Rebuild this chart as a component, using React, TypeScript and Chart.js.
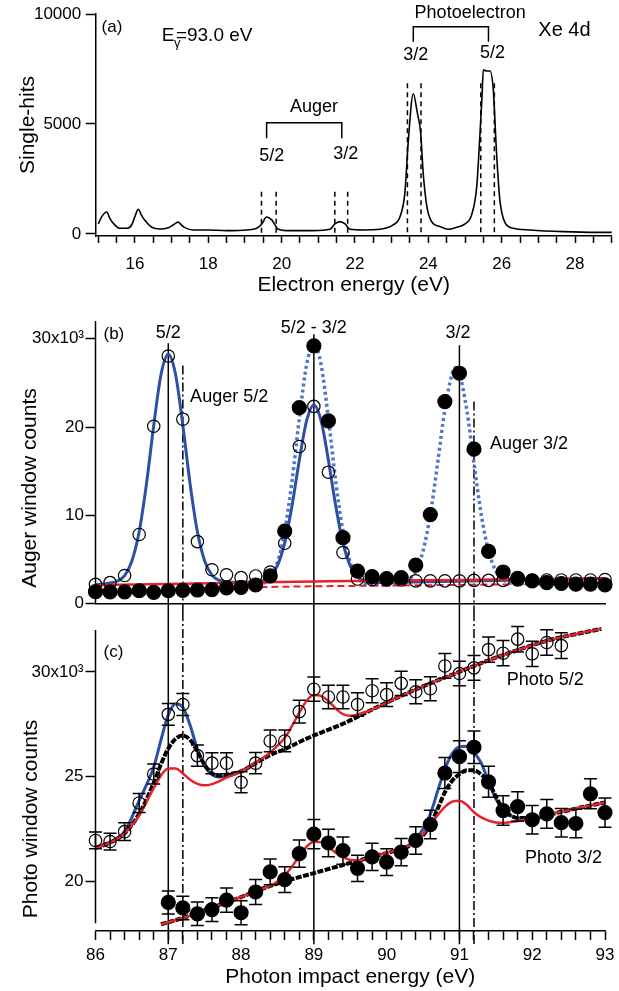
import { useEffect, useRef } from 'react';
import { Chart, registerables } from 'chart.js';

Chart.register(...registerables);

const FONT = '"Liberation Sans", Arial, Helvetica, sans-serif';
const BLACK = '#000000';
const BLUE = '#2e4fa6';
const BLUE_DOTTED = '#4f77c6';
const RED = '#e62129';

// ---------------- Panel (a): single-hit electron spectrum ----------------
const spectrumEnergy = [15.0, 15.1, 15.23, 15.32, 15.41, 15.59, 15.77, 15.91, 16.0, 16.09, 16.18, 16.27, 16.46, 16.68, 16.91, 17.05, 17.18, 17.27, 17.36, 17.59, 17.96, 18.5, 19.05, 19.32, 19.46, 19.59, 19.73, 19.91, 20.14, 20.86, 21.32, 21.45, 21.59, 21.73, 21.86, 22.23, 22.68, 23.04, 23.23, 23.36, 23.45, 23.59, 23.7, 23.79, 23.86, 23.96, 24.09, 24.32, 24.54, 24.77, 25.0, 25.18, 25.32, 25.41, 25.46, 25.5, 25.59, 25.68, 25.77, 25.86, 25.95, 26.09, 26.32, 26.77, 27.68, 28.59, 29.0];
const spectrumCounts = [457, 800, 1000, 700, 487, 259, 259, 411, 800, 1126, 850, 620, 304, 228, 289, 420, 540, 400, 289, 183, 183, 152, 183, 259, 457, 770, 640, 213, 152, 152, 213, 457, 563, 457, 213, 183, 213, 411, 791, 1857, 4140, 6377, 5510, 4600, 2770, 1248, 563, 335, 213, 304, 457, 868, 2161, 4600, 6119, 7458, 7412, 7412, 6575, 3683, 1553, 518, 259, 183, 107, 76, 76];
const spectrumTickLabels = [16, 18, 20, 22, 24, 26, 28];
const spectrumYTicks = [0, 5000, 10000];
const augerWindowEdges = [19.45, 19.85, 21.45, 21.8];
const photoWindowEdges = [23.43, 23.8, 25.43, 25.8];
const augerWindowTop = 1923;
const photoWindowTop = 6850;
const panelABrackets = [
  { x1: 23.59, x2: 25.64, top: 9423, bottom: 8741 },
  { x1: 19.59, x2: 21.64, top: 5059, bottom: 4350 },
];
const panelALabels = [
  { text: '(a)', x: 15.09, y: 9409, size: 17, align: 'left' },
  { text: 'Photoelectron', x: 25.14, y: 10032, size: 18, align: 'center' },
  { text: '3/2', x: 23.66, y: 8136, size: 18, align: 'center' },
  { text: '5/2', x: 25.75, y: 8214, size: 18, align: 'center' },
  { text: 'Xe 4d', x: 27.0, y: 9273, size: 20, align: 'left' },
  { text: 'Auger', x: 20.88, y: 5786, size: 18, align: 'center' },
  { text: '5/2', x: 19.73, y: 3545, size: 18, align: 'center' },
  { text: '3/2', x: 21.75, y: 3636, size: 18, align: 'center' },
];
const photonEnergyLabel = { x: 16.73, y: 8795 };

// ---------------- Panels (b) and (c): photon energy scans ----------------
const photonEnergy = [86.0, 86.2, 86.4, 86.6, 86.8, 87.0, 87.2, 87.4, 87.6, 87.8, 88.0, 88.2, 88.4, 88.6, 88.8, 89.0, 89.2, 89.4, 89.6, 89.8, 90.0, 90.2, 90.4, 90.6, 90.8, 91.0, 91.2, 91.4, 91.6, 91.8, 92.0, 92.2, 92.4, 92.6, 92.8, 93.0];
const photonTickLabels = [86, 87, 88, 89, 90, 91, 92, 93];

// (b) Auger window counts
const auger52Counts = [2200, 2400, 3200, 7850, 20100, 28050, 20900, 7040, 3850, 3280, 2960, 3150, 3600, 6850, 17800, 22350, 14900, 5800, 2800, 2750, 2700, 2700, 2600, 2600, 2600, 2600, 2650, 2650, 2650, 2700, 2650, 2700, 2700, 2700, 2700, 2750];
const auger32Counts = [1370, 1350, 1350, 1480, 1300, 1480, 1530, 1560, 1610, 1800, 1850, 2130, 3150, 8220, 22200, 29200, 20700, 7480, 3700, 3070, 2850, 2960, 4370, 10100, 22900, 26100, 17500, 5930, 3600, 2890, 2600, 2400, 2300, 2220, 2220, 2150];
const auger52FitE = [86.0, 86.2, 86.3, 86.4, 86.5, 86.6, 86.7, 86.8, 86.9, 87.0, 87.1, 87.2, 87.3, 87.4, 87.5, 87.6, 87.7, 87.8, 88.0, 88.2, 88.3, 88.4, 88.5, 88.6, 88.7, 88.8, 88.9, 89.0, 89.1, 89.2, 89.3, 89.4, 89.5, 89.6, 89.7, 89.8, 90.2, 93.0];
const auger52Fit = [2150, 2350, 2580, 3200, 4850, 8150, 13550, 20200, 25950, 28250, 25950, 20200, 13550, 8150, 4850, 3250, 2650, 2480, 2450, 2500, 2620, 3100, 4350, 6900, 11100, 16250, 20700, 22500, 20700, 16250, 11100, 6900, 4300, 3050, 2560, 2400, 2450, 2850];
const auger32FitE = [86.0, 87.0, 87.8, 88.0, 88.2, 88.3, 88.4, 88.5, 88.6, 88.7, 88.8, 88.9, 89.0, 89.1, 89.2, 89.3, 89.4, 89.5, 89.6, 89.7, 89.8, 90.0, 90.2, 90.3, 90.4, 90.5, 90.6, 90.7, 90.8, 90.9, 90.95, 91.0, 91.1, 91.2, 91.3, 91.4, 91.5, 91.6, 91.7, 91.8, 93.0];
const auger32Fit = [1450, 1550, 1850, 1950, 2100, 2300, 2960, 4700, 8200, 13900, 20950, 27050, 29500, 27050, 20950, 13900, 8200, 4700, 2960, 2300, 2150, 2150, 2360, 2730, 3720, 5980, 10080, 15900, 22000, 26040, 26750, 26040, 22000, 15900, 10080, 5980, 3720, 2730, 2360, 2300, 2200];
const auger52BgE = [86, 87, 88, 89, 89.5, 90, 91, 92, 93];
const auger52Bg = [2100, 2250, 2390, 2520, 2590, 2630, 2700, 2780, 2850];
const auger32BgE = [86, 87, 88, 88.4, 89, 90, 91, 92, 93];
const auger32Bg = [1380, 1520, 1780, 1900, 1980, 2060, 2140, 2220, 2300];
const augerYTicks = [0, 10000, 20000, 30000];

// (c) Photo window counts
const photo52Energy = photonEnergy.slice(0, 33);
const photo52Counts = [21950, 21900, 22370, 23740, 25120, 27970, 28440, 26000, 25640, 25640, 24730, 25640, 26700, 26700, 28100, 29170, 28800, 28800, 28440, 29100, 28910, 29450, 29050, 29190, 30280, 29920, 30190, 31060, 30890, 31560, 30860, 31400, 31250];
const photo52Err = [400, 400, 420, 450, 480, 520, 520, 510, 500, 500, 500, 510, 520, 520, 540, 580, 560, 560, 560, 570, 570, 580, 570, 570, 590, 580, 590, 600, 600, 610, 600, 610, 610];
const photo32Energy = photonEnergy.slice(5);
const photo32Counts = [18990, 18730, 18450, 18650, 19100, 18500, 19490, 20450, 20080, 21320, 22250, 21830, 21470, 20620, 21170, 20920, 21390, 21950, 22710, 25170, 25950, 26400, 24750, 23380, 23570, 22940, 23220, 22800, 22760, 24180, 23280];
const photo32Err = [550, 560, 560, 570, 580, 570, 600, 620, 610, 650, 700, 660, 650, 630, 650, 640, 650, 660, 680, 740, 760, 780, 740, 700, 700, 680, 690, 680, 680, 720, 700];

const photo52BlueE = [86.0, 86.2, 86.4, 86.6, 86.7, 86.8, 86.9, 87.0, 87.1, 87.2, 87.3, 87.4, 87.5, 87.6, 87.7, 87.8, 88.0, 88.2];
const photo52Blue = [21600, 21870, 22380, 23850, 24600, 25450, 26750, 27950, 28480, 28300, 27450, 26300, 25500, 25100, 24980, 25000, 25250, 25640];
const photo52BlackE = [86.0, 86.2, 86.4, 86.6, 86.8, 86.9, 87.0, 87.1, 87.2, 87.3, 87.4, 87.5, 87.6, 87.7, 87.8, 88.0, 88.2, 88.4, 88.6, 88.8, 89.0, 89.4, 89.8, 90.2, 90.6, 91.0, 91.4, 91.8, 92.2, 92.6, 92.95];
const photo52Black = [21600, 21850, 22290, 23220, 24700, 25600, 26340, 26800, 26960, 26750, 26200, 25550, 25150, 25050, 25090, 25250, 25640, 26030, 26310, 26650, 26960, 27520, 28200, 28850, 29450, 30000, 30550, 31040, 31480, 31800, 32050];
const photo52RedE = [86.0, 86.2, 86.4, 86.6, 86.8, 86.9, 87.0, 87.1, 87.2, 87.3, 87.4, 87.5, 87.6, 87.8, 88.0, 88.2, 88.4, 88.5, 88.6, 88.7, 88.8, 88.9, 89.0, 89.1, 89.2, 89.3, 89.4, 89.5, 89.6, 89.8, 90.2, 90.6, 91.0, 91.4, 91.8, 92.2, 92.6, 92.95];
const photo52Red = [21600, 21850, 22290, 23150, 24450, 25050, 25380, 25380, 25150, 24850, 24650, 24580, 24640, 24950, 25250, 25660, 26150, 26480, 26850, 27420, 28050, 28620, 28900, 28850, 28600, 28250, 27980, 27900, 27960, 28200, 28850, 29450, 30000, 30550, 31040, 31480, 31800, 32050];

const photo32BlueE = [90.3, 90.4, 90.5, 90.6, 90.7, 90.8, 90.9, 91.0, 91.1, 91.2, 91.3, 91.4, 91.5, 91.6, 91.7, 91.8, 91.9, 92.0];
const photo32Blue = [21700, 22050, 22500, 23200, 24300, 25350, 26100, 26420, 26450, 26150, 25640, 24750, 23950, 23400, 23150, 23020, 23000, 23030];
const photo32BlackE = [86.9, 87.2, 87.6, 88.0, 88.4, 88.8, 89.0, 89.4, 89.8, 90.2, 90.4, 90.5, 90.6, 90.7, 90.8, 90.9, 91.0, 91.1, 91.2, 91.3, 91.4, 91.5, 91.6, 91.7, 91.8, 92.0, 92.4, 92.8, 93.0];
const photo32Black = [17950, 18250, 18750, 19250, 19780, 20200, 20390, 20780, 21170, 21550, 21850, 22200, 22700, 23450, 24250, 24800, 25120, 25300, 25300, 25100, 24750, 24050, 23450, 23150, 23020, 23020, 23320, 23620, 23770];
const photo32RedE = [86.9, 87.2, 87.6, 88.0, 88.4, 88.5, 88.6, 88.7, 88.8, 88.9, 89.0, 89.1, 89.2, 89.3, 89.4, 89.5, 89.6, 89.8, 90.0, 90.2, 90.4, 90.5, 90.6, 90.7, 90.8, 90.9, 91.0, 91.1, 91.2, 91.3, 91.4, 91.5, 91.6, 91.8, 92.0, 92.2, 92.4, 92.6, 92.8, 93.0];
const photo32Red = [17950, 18250, 18750, 19250, 19790, 19990, 20290, 20710, 21200, 21650, 21890, 21870, 21650, 21370, 21150, 21020, 21000, 21170, 21360, 21550, 21900, 22250, 22700, 23150, 23550, 23800, 23850, 23650, 23300, 23050, 22900, 22810, 22790, 22880, 23020, 23190, 23320, 23480, 23620, 23770];
const photoYTicks = [20000, 25000, 30000];

// reference lines (photon energies) and their upper ends in panel (b)
const solidRefLines = [87.0, 89.0, 91.0];
const solidRefTopsB = [29500, 30500, 29270];
const dashDotRefLines = [87.2, 91.2];
const dashDotTopsB = [26970, 22900];
const refLinesBottomC = 17000;

const augerLabels = [
  { text: '(b)', x: 86.11, y: 30490, size: 17, align: 'left' },
  { text: '5/2', x: 87.0, y: 30600, size: 18, align: 'center' },
  { text: '5/2 - 3/2', x: 89.0, y: 31230, size: 18, align: 'center' },
  { text: '3/2', x: 90.98, y: 30600, size: 18, align: 'center' },
  { text: 'Auger 5/2', x: 87.3, y: 23390, size: 18, align: 'left' },
  { text: 'Auger 3/2', x: 91.42, y: 18100, size: 18, align: 'left' },
];
const photoLabels = [
  { text: '(c)', x: 86.11, y: 30930, size: 17, align: 'left' },
  { text: 'Photo 5/2', x: 91.65, y: 29614, size: 18, align: 'left' },
  { text: 'Photo 3/2', x: 91.9, y: 21116, size: 18, align: 'left' },
];

function pts(xs: number[], ys: number[]) {
  return xs.map((x, i) => ({ x, y: ys[i] }));
}

function drawText(ctx: CanvasRenderingContext2D, text: string, x: number, y: number, size: number, align: CanvasTextAlign) {
  ctx.save();
  ctx.font = `${size}px ${FONT}`;
  ctx.fillStyle = BLACK;
  ctx.textAlign = align;
  ctx.textBaseline = 'middle';
  ctx.fillText(text, x, y);
  ctx.restore();
}

function drawRotated(ctx: CanvasRenderingContext2D, text: string, x: number, y: number, size: number) {
  ctx.save();
  ctx.translate(x, y);
  ctx.rotate(-Math.PI / 2);
  ctx.font = `${size}px ${FONT}`;
  ctx.fillStyle = BLACK;
  ctx.textAlign = 'center';
  ctx.textBaseline = 'middle';
  ctx.fillText(text, 0, 0);
  ctx.restore();
}

function vline(ctx: CanvasRenderingContext2D, x: number, y1: number, y2: number) {
  ctx.beginPath();
  ctx.moveTo(x, y1);
  ctx.lineTo(x, y2);
  ctx.stroke();
}

function drawErrorBars(ctx: CanvasRenderingContext2D, xs: number[], ys: number[], errs: number[], xScale: any, yScale: any) {
  ctx.save();
  ctx.strokeStyle = BLACK;
  ctx.lineWidth = 1.5;
  ctx.setLineDash([]);
  xs.forEach((xv, i) => {
    const px = xScale.getPixelForValue(xv);
    const top = yScale.getPixelForValue(ys[i] + errs[i]);
    const bot = yScale.getPixelForValue(ys[i] - errs[i]);
    ctx.beginPath();
    ctx.moveTo(px, top);
    ctx.lineTo(px, bot);
    ctx.moveTo(px - 6.5, top);
    ctx.lineTo(px + 6.5, top);
    ctx.moveTo(px - 6.5, bot);
    ctx.lineTo(px + 6.5, bot);
    ctx.stroke();
  });
  ctx.restore();
}

const baseOptions = (padding: any) => ({
  animation: false,
  responsive: false,
  maintainAspectRatio: false,
  devicePixelRatio: 1,
  events: [],
  layout: { padding },
  plugins: { legend: { display: false }, tooltip: { enabled: false } },
});

const tickGrid = (len: number) => ({
  display: true,
  drawOnChartArea: false,
  drawTicks: true,
  tickLength: len,
  tickColor: BLACK,
  tickWidth: 1.5,
  color: BLACK,
});

const curve = (data: any[], color: string, width: number, dash: number[], order: number) => ({
  data,
  showLine: true,
  borderColor: color,
  borderWidth: width,
  borderDash: dash,
  pointRadius: 0,
  cubicInterpolationMode: 'monotone',
  clip: false,
  order,
});

const markers = (data: any[], filled: boolean) => ({
  data,
  showLine: false,
  pointStyle: 'circle',
  pointRadius: filled ? 7 : 6.2,
  pointBorderWidth: 1.2,
  pointBorderColor: BLACK,
  pointBackgroundColor: filled ? BLACK : 'rgba(0,0,0,0)',
  clip: false,
  order: 0,
});

function makePanelA(canvas: HTMLCanvasElement) {
  const plugin = {
    id: 'panelAExtras',
    afterDatasetsDraw(chart: any) {
      const ctx: CanvasRenderingContext2D = chart.ctx;
      const X = (v: number) => chart.scales.x.getPixelForValue(v);
      const Y = (v: number) => chart.scales.y.getPixelForValue(v);
      ctx.save();
      ctx.strokeStyle = BLACK;
      ctx.lineWidth = 1.5;
      ctx.setLineDash([5, 4]);
      augerWindowEdges.forEach((e) => vline(ctx, X(e), Y(augerWindowTop), Y(0)));
      photoWindowEdges.forEach((e) => vline(ctx, X(e), Y(photoWindowTop), Y(0)));
      ctx.setLineDash([]);
      panelABrackets.forEach((b) => {
        ctx.beginPath();
        ctx.moveTo(X(b.x1), Y(b.bottom));
        ctx.lineTo(X(b.x1), Y(b.top));
        ctx.lineTo(X(b.x2), Y(b.top));
        ctx.lineTo(X(b.x2), Y(b.bottom));
        ctx.stroke();
      });
      ctx.restore();
      panelALabels.forEach((l) => drawText(ctx, l.text, X(l.x), Y(l.y), l.size, l.align as CanvasTextAlign));
      // E_gamma = 93.0 eV
      const ex = X(photonEnergyLabel.x);
      const ey = Y(photonEnergyLabel.y);
      ctx.save();
      ctx.fillStyle = BLACK;
      ctx.textAlign = 'left';
      ctx.textBaseline = 'alphabetic';
      ctx.font = `19px ${FONT}`;
      ctx.fillText('E', ex, ey);
      const w = ctx.measureText('E').width;
      ctx.font = `13px ${FONT}`;
      ctx.fillText('γ', ex + w - 0.5, ey + 6.5);
      ctx.font = `19px ${FONT}`;
      ctx.fillText('=93.0 eV', ex + w + 1.5, ey);
      ctx.restore();
    },
  };
  return new Chart(canvas, {
    type: 'scatter',
    data: {
      datasets: [curve(pts(spectrumEnergy, spectrumCounts), BLACK, 1.6, [], 1)],
    },
    options: {
      ...baseOptions({ top: 14, right: 7.3, left: 0, bottom: 0 }),
      scales: {
        x: {
          type: 'linear',
          position: 'bottom',
          min: 14.93,
          max: 29,
          afterFit: (s: any) => { s.height = 64; s.paddingLeft = 0; s.paddingRight = 0; },
          border: { display: true, color: BLACK, width: 1.5 },
          grid: tickGrid(7),
          ticks: {
            stepSize: 0.5,
            includeBounds: false,
            autoSkip: false,
            maxRotation: 0,
            minRotation: 0,
            padding: 11.5,
            color: BLACK,
            font: { size: 17, family: FONT },
            callback: (v: any) => {
              const t = spectrumTickLabels.find((q) => Math.abs(q - v) < 1e-6);
              return t === undefined ? '' : String(t);
            },
          },
          title: { display: true, text: 'Electron energy (eV)', color: BLACK, font: { size: 21, family: FONT }, padding: { top: 0, bottom: 2.4 } },
        },
        y: {
          type: 'linear',
          position: 'left',
          min: -91,
          max: 10000,
          afterFit: (s: any) => { s.width = 95.7; s.paddingTop = 0; s.paddingBottom = 0; },
          afterBuildTicks: (s: any) => { s.ticks = spectrumYTicks.map((v) => ({ value: v })); },
          border: { display: true, color: BLACK, width: 1.5 },
          grid: tickGrid(10),
          ticks: { autoSkip: false, padding: 4.5, color: BLACK, font: { size: 17, family: FONT }, callback: (v: any) => String(v) },
          title: { display: true, text: 'Single-hits', color: BLACK, font: { size: 21, family: FONT }, padding: { top: 16, bottom: 0 } },
        },
      },
    } as any,
    plugins: [plugin],
  });
}

function makePanelB(canvas: HTMLCanvasElement) {
  const plugin = {
    id: 'panelBExtras',
    beforeDatasetsDraw(chart: any) {
      const ctx: CanvasRenderingContext2D = chart.ctx;
      const X = (v: number) => chart.scales.x.getPixelForValue(v);
      const Y = (v: number) => chart.scales.y.getPixelForValue(v);
      const bottom = chart.height;
      ctx.save();
      ctx.strokeStyle = BLACK;
      ctx.lineWidth = 1.5;
      solidRefLines.forEach((e, i) => vline(ctx, X(e), Y(solidRefTopsB[i]), bottom));
      ctx.setLineDash([9, 3, 2, 3]);
      dashDotRefLines.forEach((e, i) => vline(ctx, X(e), Y(dashDotTopsB[i]), bottom));
      ctx.setLineDash([]);
      vline(ctx, chart.chartArea.left, Y(32000), Y(0));
      ctx.restore();
    },
    afterDatasetsDraw(chart: any) {
      const ctx: CanvasRenderingContext2D = chart.ctx;
      const X = (v: number) => chart.scales.x.getPixelForValue(v);
      const Y = (v: number) => chart.scales.y.getPixelForValue(v);
      augerLabels.forEach((l) => drawText(ctx, l.text, X(l.x), Y(l.y), l.size, l.align as CanvasTextAlign));
      drawRotated(ctx, 'Auger window counts', 30, 188, 21);
    },
  };
  return new Chart(canvas, {
    type: 'scatter',
    data: {
      datasets: [
        markers(pts(photonEnergy, auger52Counts), false),
        markers(pts(photonEnergy, auger32Counts), true),
        curve(pts(auger52BgE, auger52Bg), RED, 2.5, [], 1),
        curve(pts(auger32BgE, auger32Bg), RED, 2, [7, 4], 1),
        curve(pts(auger52FitE, auger52Fit), BLUE, 3, [], 2),
        curve(pts(auger32FitE, auger32Fit), BLUE_DOTTED, 3.5, [3, 3], 2),
      ],
    },
    options: {
      ...baseOptions({ top: 10, right: 14, left: 0, bottom: 0 }),
      scales: {
        x: {
          type: 'linear',
          position: 'bottom',
          min: 86,
          max: 93,
          afterFit: (s: any) => { s.height = 2; s.paddingLeft = 0; s.paddingRight = 0; },
          border: { display: true, color: BLACK, width: 1.5 },
          grid: { display: false },
          ticks: { display: false },
        },
        y: {
          type: 'linear',
          position: 'left',
          min: 0,
          max: 33259,
          afterFit: (s: any) => { s.width = 95.5; s.paddingTop = 0; s.paddingBottom = 0; },
          afterBuildTicks: (s: any) => { s.ticks = augerYTicks.map((v) => ({ value: v })); },
          border: { display: false },
          grid: tickGrid(10),
          ticks: {
            autoSkip: false,
            padding: 1.5,
            color: BLACK,
            font: { size: 17, family: FONT },
            callback: (v: any) => (v === 30000 ? '30x10³' : String(v / 1000)),
          },
        },
      },
    } as any,
    plugins: [plugin],
  });
}

function makePanelC(canvas: HTMLCanvasElement) {
  const plugin = {
    id: 'panelCExtras',
    beforeDatasetsDraw(chart: any) {
      const ctx: CanvasRenderingContext2D = chart.ctx;
      const X = (v: number) => chart.scales.x.getPixelForValue(v);
      const Y = (v: number) => chart.scales.y.getPixelForValue(v);
      ctx.save();
      ctx.strokeStyle = BLACK;
      ctx.lineWidth = 1.5;
      solidRefLines.forEach((e) => vline(ctx, X(e), 0, Y(refLinesBottomC)));
      ctx.setLineDash([9, 3, 2, 3]);
      dashDotRefLines.forEach((e) => vline(ctx, X(e), 0, Y(refLinesBottomC)));
      ctx.setLineDash([]);
      vline(ctx, chart.chartArea.left, Y(18000), Y(32000));
      ctx.restore();
    },
    afterDatasetsDraw(chart: any) {
      const ctx: CanvasRenderingContext2D = chart.ctx;
      const xs = chart.scales.x;
      const ys = chart.scales.y;
      drawErrorBars(ctx, photo52Energy, photo52Counts, photo52Err, xs, ys);
      drawErrorBars(ctx, photo32Energy, photo32Counts, photo32Err, xs, ys);
      photoLabels.forEach((l) => drawText(ctx, l.text, xs.getPixelForValue(l.x), ys.getPixelForValue(l.y), l.size, l.align as CanvasTextAlign));
      drawRotated(ctx, 'Photo window counts', 31, 207, 21);
    },
  };
  return new Chart(canvas, {
    type: 'scatter',
    data: {
      datasets: [
        markers(pts(photo52Energy, photo52Counts), false),
        markers(pts(photo32Energy, photo32Counts), true),
        curve(pts(photo52RedE, photo52Red), RED, 2.5, [], 1),
        curve(pts(photo32RedE, photo32Red), RED, 2.5, [], 1),
        curve(pts(photo52BlackE, photo52Black), BLACK, 4, [6, 1.5], 2),
        curve(pts(photo32BlackE, photo32Black), BLACK, 4, [6, 1.5], 2),
        curve(pts(photo52BlueE, photo52Blue), BLUE, 3, [], 3),
        curve(pts(photo32BlueE, photo32Blue), BLUE, 3, [], 3),
      ],
    },
    options: {
      ...baseOptions({ top: 0, right: 14, left: 0, bottom: 0 }),
      scales: {
        x: {
          type: 'linear',
          position: 'bottom',
          min: 86,
          max: 93,
          afterFit: (s: any) => { s.height = 60; s.paddingLeft = 0; s.paddingRight = 0; },
          border: { display: true, color: BLACK, width: 1.5 },
          grid: tickGrid(9),
          ticks: {
            stepSize: 0.2,
            includeBounds: false,
            autoSkip: false,
            maxRotation: 0,
            minRotation: 0,
            padding: 4.8,
            color: BLACK,
            font: { size: 17, family: FONT },
            callback: (v: any) => {
              const t = photonTickLabels.find((q) => Math.abs(q - v) < 1e-6);
              return t === undefined ? '' : String(t);
            },
          },
          title: { display: true, text: 'Photon impact energy (eV)', color: BLACK, font: { size: 21, family: FONT }, padding: { top: 0, bottom: 1.4 } },
        },
        y: {
          type: 'linear',
          position: 'left',
          min: 17628,
          max: 32465,
          afterFit: (s: any) => { s.width = 95.5; s.paddingTop = 0; s.paddingBottom = 0; },
          afterBuildTicks: (s: any) => { s.ticks = photoYTicks.map((v) => ({ value: v })); },
          border: { display: false },
          grid: tickGrid(10),
          ticks: {
            autoSkip: false,
            padding: 2,
            color: BLACK,
            font: { size: 17, family: FONT },
            callback: (v: any) => (v === 30000 ? '30x10³' : String(v / 1000)),
          },
        },
      },
    } as any,
    plugins: [plugin],
  });
}

export default function App() {
  const refA = useRef<HTMLCanvasElement>(null);
  const refB = useRef<HTMLCanvasElement>(null);
  const refC = useRef<HTMLCanvasElement>(null);

  useEffect(() => {
    Chart.defaults.font.family = FONT;
    Chart.defaults.color = BLACK;
    const charts = [
      makePanelA(refA.current as HTMLCanvasElement),
      makePanelB(refB.current as HTMLCanvasElement),
      makePanelC(refC.current as HTMLCanvasElement),
    ];
    return () => charts.forEach((c) => c.destroy());
  }, []);

  return (
    <div style={{ position: 'absolute', left: 0, top: 0, width: 619, height: 991, background: '#ffffff' }}>
      <canvas ref={refA} width={619} height={300} style={{ position: 'absolute', left: 0, top: 0, width: 619, height: 300 }} />
      <canvas ref={refB} width={619} height={312} style={{ position: 'absolute', left: 0, top: 300, width: 619, height: 312 }} />
      <canvas ref={refC} width={619} height={379} style={{ position: 'absolute', left: 0, top: 612, width: 619, height: 379 }} />
    </div>
  );
}
